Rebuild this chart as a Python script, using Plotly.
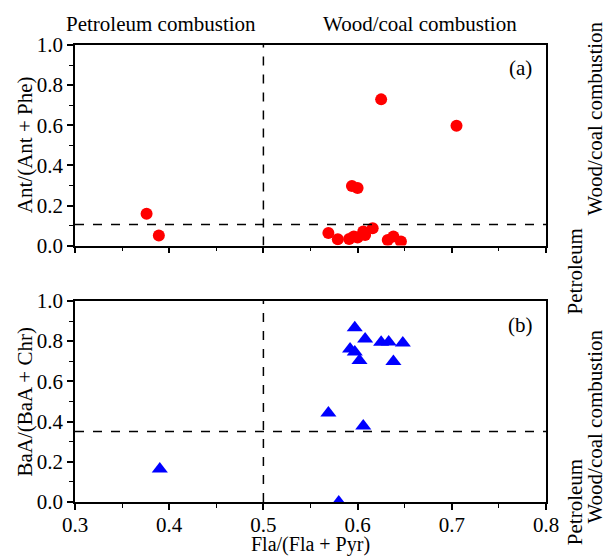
import plotly.graph_objects as go

# Panel (a): Fla/(Fla+Pyr) vs Ant/(Ant+Phe)
a_x = [0.376, 0.389, 0.625, 0.705, 0.594, 0.600, 0.569, 0.579, 0.591, 0.596,
       0.600, 0.606, 0.608, 0.616, 0.632, 0.638, 0.646]
a_y = [0.159, 0.051, 0.729, 0.597, 0.297, 0.287, 0.063, 0.032, 0.033, 0.045,
       0.040, 0.070, 0.053, 0.087, 0.028, 0.045, 0.020]

# Panel (b): Fla/(Fla+Pyr) vs BaA/(BaA+Chr)
b_x = [0.390, 0.580, 0.569, 0.606, 0.597, 0.608, 0.592, 0.597, 0.602, 0.625,
       0.633, 0.648, 0.638]
b_y = [0.164, 0.000, 0.443, 0.378, 0.866, 0.811, 0.761, 0.746, 0.704, 0.794,
       0.796, 0.791, 0.699]

x_threshold = 0.5
a_threshold = 0.105
b_threshold = 0.35

x_ticks = [0.3, 0.4, 0.5, 0.6, 0.7, 0.8]
y_ticks = [0.0, 0.2, 0.4, 0.6, 0.8, 1.0]

FONT = "Liberation Serif, DejaVu Serif"
FS = 21

fig = go.Figure()
fig.add_trace(go.Scatter(x=a_x, y=a_y, mode="markers", xaxis="x", yaxis="y",
                         marker=dict(symbol="circle", size=12, color="#ff0000"),
                         showlegend=False))
fig.add_trace(go.Scatter(x=b_x, y=b_y, mode="markers", xaxis="x2", yaxis="y2",
                         marker=dict(symbol="triangle-up", size=14, color="#0000ff"),
                         showlegend=False))

axis_common = dict(showline=True, linecolor="black", linewidth=1.5, mirror=True,
                   ticks="outside", ticklen=6, tickwidth=1.5, tickcolor="black",
                   showgrid=False, zeroline=False, automargin=False,
                   tickfont=dict(family=FONT, size=FS, color="black"))
minor_x = dict(ticks="outside", ticklen=4, tickwidth=1.2, tickcolor="black", dtick=0.05)
minor_y = dict(ticks="outside", ticklen=4, tickwidth=1.2, tickcolor="black", dtick=0.1)

fig.update_layout(
    width=606, height=557,
    margin=dict(l=75, r=60, t=45, b=55),
    plot_bgcolor="white", paper_bgcolor="white",
    font=dict(family=FONT, size=FS, color="black"),
    xaxis=dict(range=[0.3, 0.8], tickvals=x_ticks, showticklabels=False,
               anchor="y", domain=[0, 1], minor=minor_x, **axis_common),
    yaxis=dict(range=[0, 1], tickvals=y_ticks, tickformat=".1f",
               domain=[0.561, 1], anchor="x", minor=minor_y, **axis_common),
    xaxis2=dict(range=[0.3, 0.8], tickvals=x_ticks, tickformat=".1f",
                anchor="y2", domain=[0, 1], minor=minor_x, ticklabelstandoff=-3,
                **axis_common),
    yaxis2=dict(range=[0, 1], tickvals=y_ticks, tickformat=".1f",
                domain=[0, 0.44], anchor="x2", minor=minor_y, **axis_common),
)

dash = dict(color="black", width=1.5, dash="dash")
fig.add_shape(type="line", xref="x", yref="y", x0=x_threshold, x1=x_threshold, y0=0, y1=1, line=dash)
fig.add_shape(type="line", xref="x", yref="y", x0=0.3, x1=0.8, y0=a_threshold, y1=a_threshold, line=dash)
fig.add_shape(type="line", xref="x2", yref="y2", x0=x_threshold, x1=x_threshold, y0=0, y1=1, line=dash)
fig.add_shape(type="line", xref="x2", yref="y2", x0=0.3, x1=0.8, y0=b_threshold, y1=b_threshold, line=dash)

def ann(text, x, y, xref="paper", yref="paper", angle=0, size=FS):
    fig.add_annotation(text=text, x=x, y=y, xref=xref, yref=yref, showarrow=False,
                       textangle=angle, font=dict(family=FONT, size=size, color="black"),
                       xanchor="center", yanchor="middle")

# axis titles
ann("Ant/(Ant + Phe)", -0.106, 0.781, angle=-90)
ann("BaA/(BaA + Chr)", -0.106, 0.22, angle=-90)
ann("Fla/(Fla + Pyr)", 0.5, -0.093, size=20)

ann("(a)", 0.773, 0.885, "x", "y")
ann("(b)", 0.773, 0.88, "x2", "y2")
ann("Petroleum combustion", 0.183, 1.045)
ann("Wood/coal combustion", 0.733, 1.045)
ann("Wood/coal combustion", 1.105, 0.84, angle=-90)
ann("Petroleum", 1.062, 0.505, angle=-90)
ann("Wood/coal combustion", 1.105, 0.166, angle=-90)
ann("Petroleum", 1.062, 0.0, angle=-90)

fig.write_html("out.html", config={"displayModeBar": False},
               post_script="document.body.style.margin='0px';")
